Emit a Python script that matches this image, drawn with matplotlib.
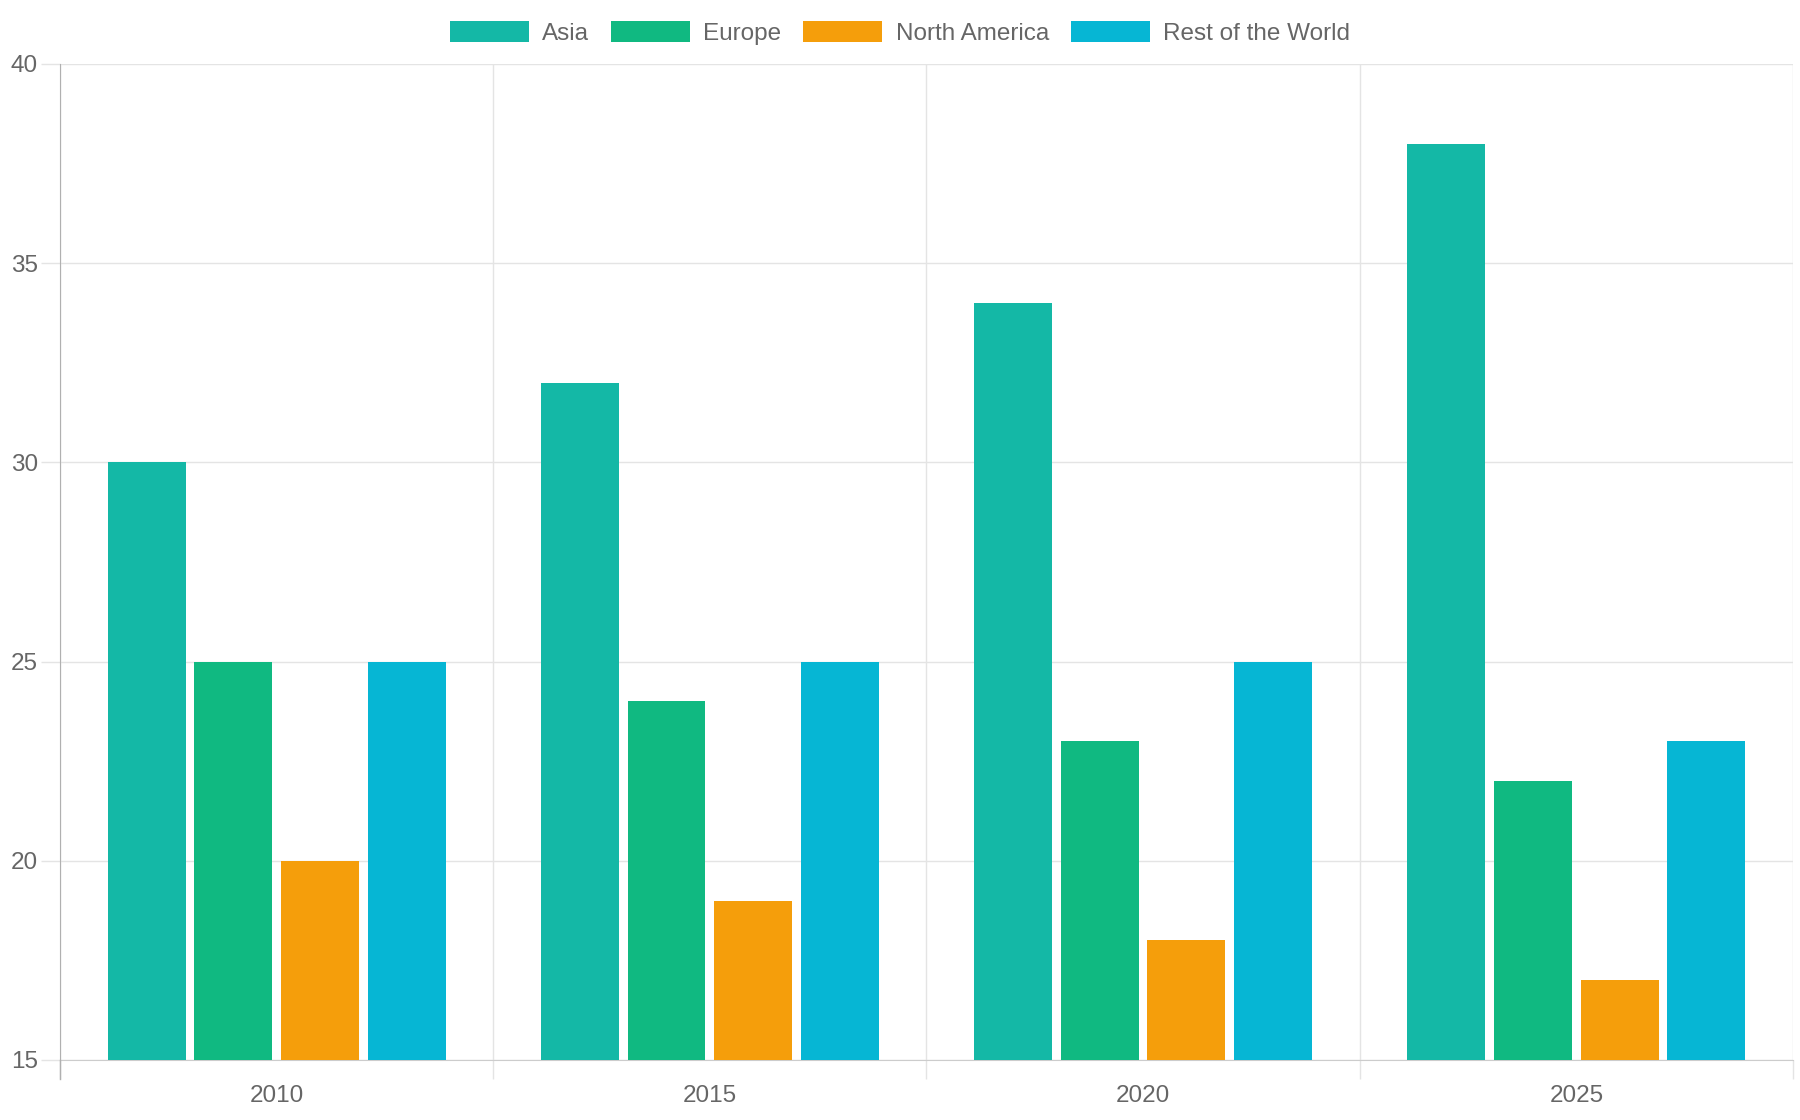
import numpy as np
import matplotlib
matplotlib.use("Agg")
import matplotlib.pyplot as plt
from matplotlib.patches import Patch

# data
years = ["2010", "2015", "2020", "2025"]
asia = [30, 32, 34, 38]
europe = [25, 24, 23, 22]
north_america = [20, 19, 18, 17]
rest_world = [25, 25, 25, 23]

series_names = ["Asia", "Europe", "North America", "Rest of the World"]
colors = ["#14b8a6", "#10b981", "#f59e0b", "#06b6d4"]

plt.rcParams["font.family"] = ["Liberation Sans", "DejaVu Sans"]
text_col = "#666666"
grid_col = "#e4e4e4"
axis_col = "#b0b0b0"

fig = plt.figure(figsize=(18, 11.2), dpi=100)
ax = fig.add_axes([0.0333, 0.0536, 0.9628, 0.8893])

x = np.arange(len(years))
slot = 0.8 / 4
width = slot * 0.9
for i, (vals, name, c) in enumerate(zip([asia, europe, north_america, rest_world], series_names, colors)):
    ax.bar(x + (i - 1.5) * slot, vals, width=width, color=c, label=name, zorder=3)

ax.set_xlim(-0.5, len(years) - 0.5)
ax.set_ylim(15, 40)
ax.set_yticks(np.arange(15, 41, 5))

# category boundaries as minor ticks/grid
ax.set_xticks(x)
ax.set_xticklabels(years)
ax.set_xticks(np.arange(-0.5, len(years)), minor=True)
ax.tick_params(axis="x", which="major", length=0, pad=18, labelsize=17.5, labelcolor=text_col)
ax.tick_params(axis="x", which="minor", length=14, width=1, color=grid_col)
ax.tick_params(axis="y", length=14, width=1, color=grid_col, pad=2, labelsize=17.5, labelcolor=text_col)

ax.grid(axis="y", color=grid_col, linewidth=1, zorder=0)
ax.grid(axis="x", which="minor", color=grid_col, linewidth=1, zorder=0)

for s in ["top", "right"]:
    ax.spines[s].set_visible(False)
ax.spines["left"].set_color(axis_col)
ax.spines["bottom"].set_color("#cccccc")
ax.spines["left"].set_bounds(15, 40)

# left axis line extends down past the baseline like the reference
ax.plot([-0.5, -0.5], [15, 15 - 25 * 19 / 996], color=axis_col, lw=1, clip_on=False, zorder=4)

handles = [Patch(facecolor=c, edgecolor="none") for c in colors]
fig.legend(handles, series_names, loc="center", bbox_to_anchor=(0.5, 0.9705), ncol=4,
           frameon=False, fontsize=17.5, labelcolor=text_col, handlelength=3.25,
           handleheight=0.95, handletextpad=0.55, columnspacing=0.9)

fig.savefig("out.png", dpi=100)
